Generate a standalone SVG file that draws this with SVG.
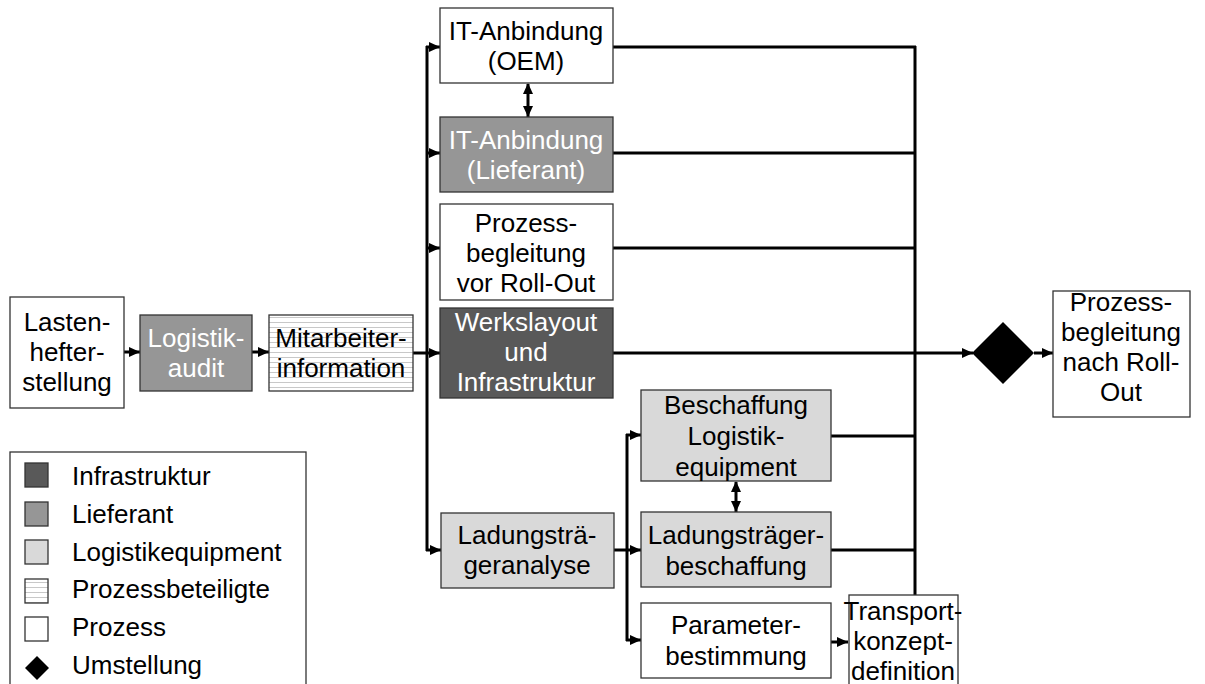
<svg xmlns="http://www.w3.org/2000/svg" width="1205" height="684" viewBox="0 0 1205 684">
  <defs>
    <pattern id="hatch" patternUnits="userSpaceOnUse" width="8" height="5">
      <rect width="8" height="5" fill="#ffffff"/>
      <line x1="0" y1="2.5" x2="8" y2="2.5" stroke="#c8c8c8" stroke-width="1"/>
    </pattern>
    <marker id="arr" markerUnits="userSpaceOnUse" markerWidth="12" markerHeight="12" refX="11" refY="6" orient="auto">
      <path d="M0,1 L11,6 L0,11 Z" fill="#000"/>
    </marker>
    <marker id="arrStart" markerUnits="userSpaceOnUse" markerWidth="12" markerHeight="12" refX="1" refY="6" orient="auto">
      <path d="M11,1 L0,6 L11,11 Z" fill="#000"/>
    </marker>
  </defs>
  <style>
    text { font-family: "Liberation Sans", Arial, sans-serif; font-size: 26px; text-anchor: middle; fill: #000; }
    .lg { text-anchor: start; }
    .wt { fill: #ffffff; }
    .box { stroke: #333; stroke-width: 1.3; }
    .proc { fill: #ffffff; }
    .infra { fill: #595959; }
    .lief { fill: #969696; }
    .equip { fill: #d9d9d9; }
    .betei { fill: url(#hatch); }
    .con { stroke: #000; stroke-width: 3; fill: none; }
    .arrow { marker-end: url(#arr); }
    .both { marker-start: url(#arrStart); marker-end: url(#arr); }
  </style>
  <rect width="1205" height="684" fill="#ffffff"/>

  <!-- connectors -->
  <g id="connectors">
    <line class="con arrow" x1="124" y1="352" x2="140" y2="352"/>
    <line class="con arrow" x1="252" y1="352" x2="269" y2="352"/>
    <!-- left distribution trunk -->
    <line class="con" x1="427" y1="46" x2="427" y2="551"/>
    <line class="con arrow" x1="413" y1="353" x2="440" y2="353"/>
    <line class="con arrow" x1="426" y1="47" x2="440" y2="47"/>
    <line class="con arrow" x1="426" y1="153" x2="440" y2="153"/>
    <line class="con arrow" x1="426" y1="248" x2="440" y2="248"/>
    <line class="con arrow" x1="426" y1="550" x2="441" y2="550"/>
    <line class="con both" x1="528" y1="84" x2="528" y2="117"/>
    <!-- right collector -->
    <line class="con" x1="915" y1="46" x2="915" y2="595"/>
    <line class="con" x1="613" y1="47" x2="916" y2="47"/>
    <line class="con" x1="613" y1="153" x2="916" y2="153"/>
    <line class="con" x1="613" y1="248" x2="916" y2="248"/>
    <line class="con arrow" x1="613" y1="353" x2="973" y2="353"/>
    <line class="con" x1="831" y1="436" x2="916" y2="436"/>
    <line class="con" x1="831" y1="550" x2="916" y2="550"/>
    <line class="con arrow" x1="1034" y1="353" x2="1053" y2="353"/>
    <!-- equipment branch -->
    <line class="con" x1="627" y1="434" x2="627" y2="641"/>
    <line class="con arrow" x1="626" y1="435" x2="641" y2="435"/>
    <line class="con arrow" x1="614" y1="550" x2="641" y2="550"/>
    <line class="con arrow" x1="626" y1="640" x2="641" y2="640"/>
    <line class="con both" x1="736" y1="482" x2="736" y2="512"/>
    <line class="con arrow" x1="831" y1="642" x2="848" y2="642"/>
  </g>

  <g id="lastenheft">
    <rect class="box proc" x="10" y="297" width="114" height="111"/>
    <text x="67" y="331">Lasten-</text>
    <text x="67" y="361">hefter-</text>
    <text x="67" y="391">stellung</text>
  </g>
  <g id="logistikaudit">
    <rect class="box lief" x="140" y="315" width="112" height="76"/>
    <text class="wt" x="196" y="347">Logistik-</text>
    <text class="wt" x="196" y="377">audit</text>
  </g>
  <g id="mitarbeiterinfo">
    <rect class="box betei" x="269" y="315" width="144" height="76"/>
    <text x="341" y="347">Mitarbeiter-</text>
    <text x="341" y="377">information</text>
  </g>
  <g id="it-oem">
    <rect class="box proc" x="440" y="8" width="173" height="75"/>
    <text x="526" y="40">IT-Anbindung</text>
    <text x="526" y="70">(OEM)</text>
  </g>
  <g id="it-lieferant">
    <rect class="box lief" x="440" y="117" width="173" height="75"/>
    <text class="wt" x="526" y="149">IT-Anbindung</text>
    <text class="wt" x="526" y="179">(Lieferant)</text>
  </g>
  <g id="prozess-vor">
    <rect class="box proc" x="440" y="204" width="173" height="96"/>
    <text x="526" y="232">Prozess-</text>
    <text x="526" y="262">begleitung</text>
    <text x="526" y="292">vor Roll-Out</text>
  </g>
  <g id="werkslayout">
    <rect class="box infra" x="440" y="308" width="173" height="90"/>
    <text class="wt" x="526" y="331">Werkslayout</text>
    <text class="wt" x="526" y="361">und</text>
    <text class="wt" x="526" y="391">Infrastruktur</text>
  </g>
  <g id="ladungstraegeranalyse">
    <rect class="box equip" x="441" y="513" width="173" height="75"/>
    <text x="527" y="544">Ladungsträ-</text>
    <text x="527" y="574">geranalyse</text>
  </g>
  <g id="beschaffung-equipment">
    <rect class="box equip" x="641" y="390" width="190" height="91"/>
    <text x="736" y="414">Beschaffung</text>
    <text x="736" y="445">Logistik-</text>
    <text x="736" y="476">equipment</text>
  </g>
  <g id="ladungstraegerbeschaffung">
    <rect class="box equip" x="641" y="512" width="190" height="75"/>
    <text x="736" y="544">Ladungsträger-</text>
    <text x="736" y="575">beschaffung</text>
  </g>
  <g id="parameterbestimmung">
    <rect class="box proc" x="641" y="603" width="190" height="75"/>
    <text x="736" y="634">Parameter-</text>
    <text x="736" y="665">bestimmung</text>
  </g>
  <g id="transportkonzept">
    <rect class="box proc" x="849" y="595" width="109" height="100"/>
    <text x="903" y="620">Transport-</text>
    <text x="903" y="650">konzept-</text>
    <text x="903" y="680">definition</text>
  </g>
  <g id="umstellung">
    <polygon points="1003,322 1034,353 1003,384 972,353" fill="#000"/>
  </g>
  <g id="prozess-nach">
    <rect class="box proc" x="1053" y="291" width="137" height="126"/>
    <text x="1121" y="311">Prozess-</text>
    <text x="1121" y="341">begleitung</text>
    <text x="1121" y="371">nach Roll-</text>
    <text x="1121" y="401">Out</text>
  </g>

  <g id="legend">
    <rect class="box proc" x="10" y="452" width="296" height="250"/>
    <rect class="box infra" x="25" y="463" width="23" height="24"/>
    <text class="lg" x="72" y="485">Infrastruktur</text>
    <rect class="box lief" x="25" y="502" width="23" height="24"/>
    <text class="lg" x="72" y="523">Lieferant</text>
    <rect class="box equip" x="25" y="540" width="23" height="24"/>
    <text class="lg" x="72" y="561">Logistikequipment</text>
    <rect class="box betei" x="25" y="579" width="23" height="24"/>
    <text class="lg" x="72" y="598">Prozessbeteiligte</text>
    <rect class="box proc" x="25" y="617" width="23" height="24"/>
    <text class="lg" x="72" y="636">Prozess</text>
    <polygon points="37,656 49,668 37,680 25,668" fill="#000"/>
    <text class="lg" x="72" y="674">Umstellung</text>
  </g>
</svg>
